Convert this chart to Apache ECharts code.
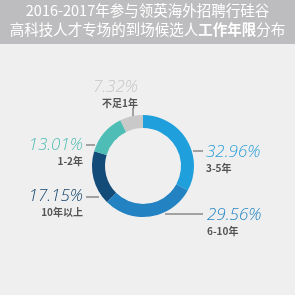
<!DOCTYPE html>
<html><head><meta charset="utf-8">
<script src="https://cdn.jsdelivr.net/npm/echarts@6/dist/echarts.min.js"></script>
<style>html,body{margin:0;padding:0;background:#efefef}#c{width:295px;height:295px}</style>
</head><body><div id="c"></div>
<script>
const categories = ['3-5年', '6-10年', '10年以上', '1-2年', '不足1年'];
const values = [32.96, 29.56, 17.15, 13.01, 7.32];
const colors = ['#1f9fdb', '#2382c1', '#134b79', '#4dbdb5', '#c9c9c9'];
const pctColors = ['#2a9fd8', '#2586c4', '#17476f', '#54bdb4', '#c6c6c6'];
const labelPos = [
  {x: 206, y: 143, align: 'left', line: [[193,151],[198,151],[203,151]]},
  {x: 207, y: 206, align: 'left', line: [[165,214],[185,214],[203,214]]},
  {x: 83, y: 187, align: 'right', line: [[99,197],[92,197],[86,197]]},
  {x: 83, y: 136, align: 'right', line: [[95,145],[90,145],[86,145]]},
  {x: 138, y: 78, align: 'right', line: [[133,117],[133,112],[133,108]]}
];
const chart = echarts.init(document.getElementById('c'));
const data = categories.map((c, i) => ({
  name: c, value: values[i],
  itemStyle: {color: colors[i]},
  label: {rich: {p: {fontSize: 17, fontStyle: 'italic', fontWeight: 300, fontFamily: 'Open Sans', color: pctColors[i], lineHeight: 18, align: labelPos[i].align},
                 n: {fontSize: 10, fontWeight: 'bold', fontFamily: 'Noto Sans CJK SC', color: '#555555', lineHeight: 14, align: labelPos[i].align}}}
}));
chart.setOption({
  backgroundColor: '#efefef',
  animation: false,
  graphic: [
    {type: 'rect', left: 0, top: 0, shape: {width: 295, height: 44}, style: {fill: '#bdbdbf'}},
    {type: 'text', left: 'center', top: 3, style: {text: '2016-2017年参与领英海外招聘行硅谷', fill: '#ffffff', fontSize: 14.5, fontFamily: 'Noto Sans CJK SC'}},
    {type: 'text', left: 'center', top: 22, style: {text: '{a|高科技人才专场的到场候选人}{b|工作年限}{a|分布}', rich: {a: {fill: '#ffffff', fontSize: 14.5, fontFamily: 'Noto Sans CJK SC'}, b: {fill: '#ffffff', fontSize: 14.5, fontWeight: 'bold', fontFamily: 'Noto Sans CJK SC'}}}}
  ],
  series: [{
    type: 'pie',
    center: [143, 166],
    radius: [38, 51],
    startAngle: 90,
    clockwise: true,
    data: data,
    label: {show: true, formatter: p => '{p|' + p.value.toFixed(2) + '%}\n{n|' + p.name + '}'},
    labelLine: {show: true, length: 5, length2: 5, lineStyle: {color: '#555', width: 1}},
    labelLayout: function (params) {
      const lp = labelPos[params.dataIndex];
      return {x: lp.x, y: lp.y, align: lp.align, verticalAlign: 'top', labelLinePoints: lp.line};
    },
    emphasis: {disabled: true}
  }]
});
</script></body></html>
